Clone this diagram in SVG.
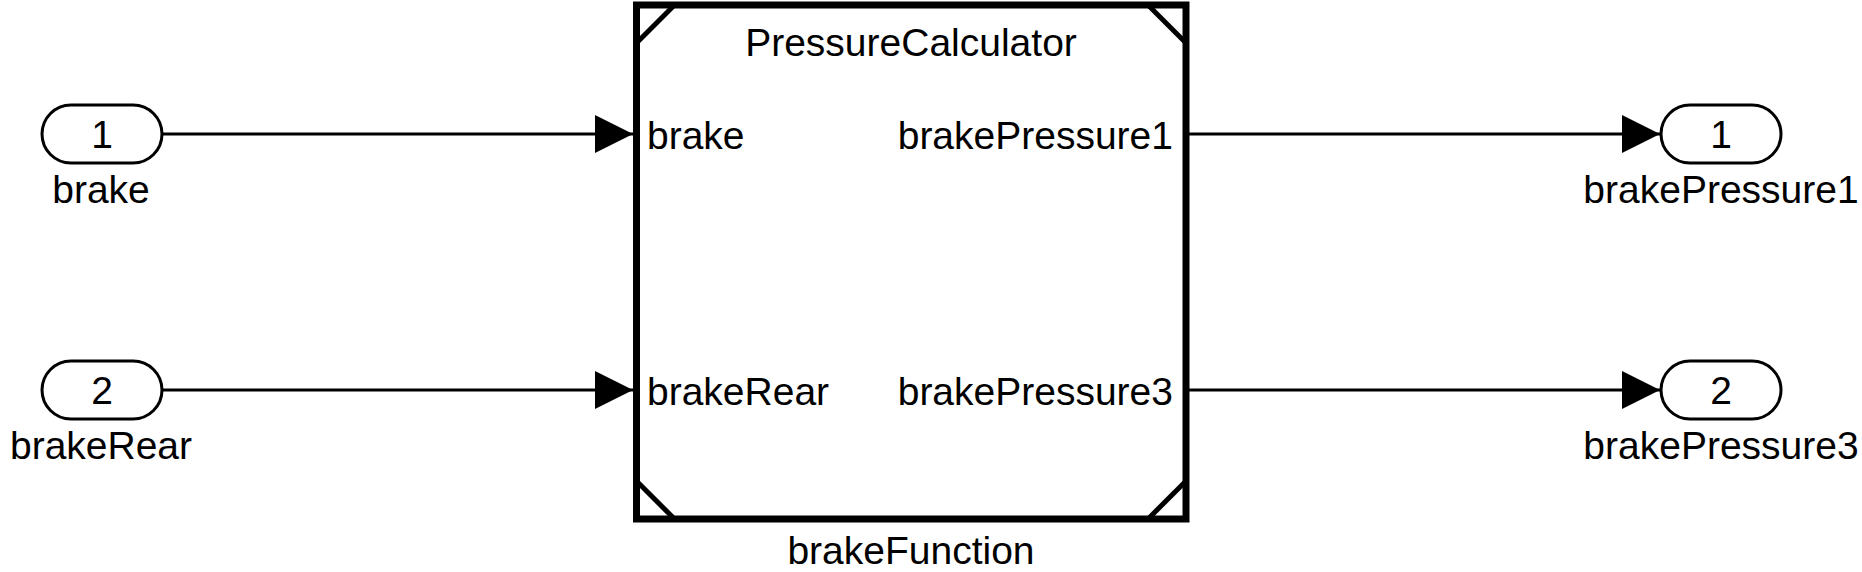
<svg xmlns="http://www.w3.org/2000/svg" width="1862" height="572" viewBox="0 0 1862 572">
<style>
  text { font-family: "Liberation Sans", Arial, sans-serif; font-size: 39px; fill: #000; }
  .port { fill: #fff; stroke: #000; stroke-width: 3; }
  .blk { fill: #fff; stroke: #000; stroke-width: 7; }
  .diag { stroke: #000; stroke-width: 5; stroke-linecap: butt; }
  .wire { stroke: #000; stroke-width: 3; fill: none; }
  .mid { text-anchor: middle; }
  .end { text-anchor: end; }
</style>
<defs>
  <marker id="arr" markerUnits="userSpaceOnUse" markerWidth="40" markerHeight="40" refX="38" refY="19" orient="auto">
    <path d="M0,0 L38,19 L0,38 Z" fill="#000"/>
  </marker>
</defs>
<rect width="1862" height="572" fill="#fff"/>
<g id="connectors">
  <line class="wire" x1="162" y1="134" x2="633" y2="134" marker-end="url(#arr)"/>
  <line class="wire" x1="162" y1="390" x2="633" y2="390" marker-end="url(#arr)"/>
  <line class="wire" x1="1189" y1="134" x2="1660" y2="134" marker-end="url(#arr)"/>
  <line class="wire" x1="1189" y1="390" x2="1660" y2="390" marker-end="url(#arr)"/>
</g>
<g id="in1">
  <rect class="port" x="42" y="105" width="120" height="58" rx="29" ry="29"/>
  <text class="mid" x="102" y="148">1</text>
  <text class="mid" x="101" y="203">brake</text>
</g>
<g id="in2">
  <rect class="port" x="42" y="361" width="120" height="58" rx="29" ry="29"/>
  <text class="mid" x="102" y="404">2</text>
  <text class="mid" x="101" y="459">brakeRear</text>
</g>
<g id="brakeFunction">
  <rect class="blk" x="636.5" y="5" width="549.5" height="514"/>
  <line class="diag" x1="636.5" y1="43" x2="674.5" y2="5"/>
  <line class="diag" x1="1148" y1="5" x2="1186" y2="43"/>
  <line class="diag" x1="636.5" y1="481" x2="674.5" y2="519"/>
  <line class="diag" x1="1148" y1="519" x2="1186" y2="481"/>
  <text class="mid" x="911" y="56">PressureCalculator</text>
  <text x="647" y="149">brake</text>
  <text x="647" y="405">brakeRear</text>
  <text class="end" x="1173" y="149">brakePressure1</text>
  <text class="end" x="1173" y="405">brakePressure3</text>
  <text class="mid" x="911" y="564">brakeFunction</text>
</g>
<g id="out1">
  <rect class="port" x="1661" y="105" width="120" height="58" rx="29" ry="29"/>
  <text class="mid" x="1721" y="148">1</text>
  <text class="mid" x="1721" y="203">brakePressure1</text>
</g>
<g id="out2">
  <rect class="port" x="1661" y="361" width="120" height="58" rx="29" ry="29"/>
  <text class="mid" x="1721" y="404">2</text>
  <text class="mid" x="1721" y="459">brakePressure3</text>
</g>
</svg>
